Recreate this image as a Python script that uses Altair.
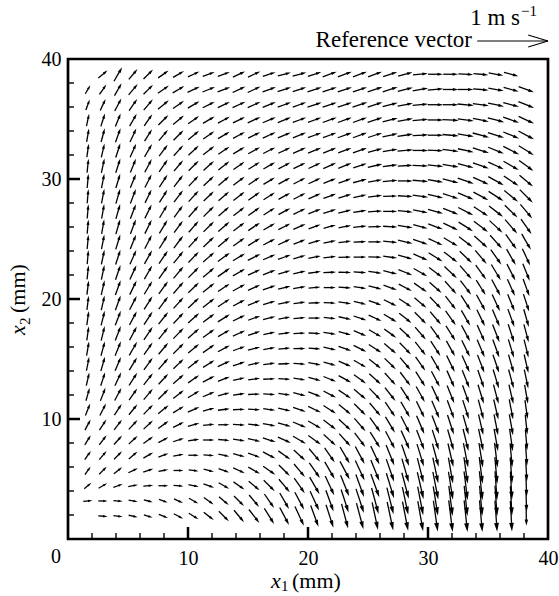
import math
import pandas as pd
import altair as alt

# Measurement grid (mm)
X_MM = [1.65, 2.91, 4.17, 5.43, 6.69, 7.95, 9.21, 10.47, 11.73, 12.99,
        14.25, 15.51, 16.77, 18.03, 19.29, 20.55, 21.81, 23.07, 24.33, 25.59,
        26.85, 28.11, 29.37, 30.63, 31.89, 33.15, 34.41, 35.67, 36.93, 38.19]
Y_MM = [1.90, 3.17, 4.44, 5.71, 6.98, 8.25, 9.52, 10.79, 12.06, 13.33,
        14.60, 15.87, 17.14, 18.41, 19.68, 20.95, 22.22, 23.49, 24.76, 26.03,
        27.30, 28.57, 29.84, 31.11, 32.38, 33.65, 34.92, 36.19, 37.46, 38.73]

N = None
# Flow direction (degrees from +x1, counter-clockwise); first row is the top row
ANGLE_ROWS = [
    [N, 40, 60, 50, 45, 35, 30, 25, 20, 20, 25, 25, 18, 15, 15, 18, 20, 20, 20, 20, 18, 15, 5, 0, 0, -3, -5, -10, -15, N],
    [60, 55, 60, 50, 45, 35, 30, 25, 22, 20, 25, 25, 20, 18, 18, 18, 18, 18, 18, 18, 18, 15, 10, 5, 0, 0, -5, -10, -15, -20],
    [70, 65, 62, 55, 50, 40, 35, 30, 27, 25, 25, 25, 22, 20, 20, 18, 18, 18, 18, 18, 15, 10, 5, 0, 0, -5, -8, -12, -15, -22],
    [78, 72, 68, 60, 55, 45, 40, 35, 30, 28, 26, 25, 23, 22, 20, 20, 20, 20, 20, 18, 15, 10, 5, 0, -3, -8, -12, -15, -20, -25],
    [80, 75, 70, 65, 58, 50, 45, 40, 35, 30, 28, 26, 25, 23, 22, 20, 20, 20, 20, 18, 12, 8, 3, 0, -5, -10, -15, -18, -22, -28],
    [82, 77, 72, 66, 60, 53, 48, 43, 38, 34, 31, 29, 27, 25, 24, 22, 22, 21, 20, 15, 10, 5, 0, -3, -8, -12, -18, -22, -27, -32],
    [84, 78, 72, 68, 62, 55, 50, 45, 42, 38, 35, 32, 30, 28, 26, 25, 24, 22, 18, 13, 8, 3, -2, -6, -10, -15, -20, -25, -30, -36],
    [85, 79, 73, 68, 63, 57, 52, 47, 43, 40, 37, 34, 31, 29, 27, 25, 22, 20, 15, 10, 5, 0, -5, -10, -14, -19, -24, -29, -34, -40],
    [85, 79, 74, 69, 64, 58, 53, 48, 44, 41, 38, 35, 32, 29, 27, 24, 20, 17, 12, 7, 2, -3, -8, -13, -18, -23, -28, -33, -39, -45],
    [85, 80, 74, 69, 64, 59, 54, 49, 45, 41, 38, 35, 32, 29, 26, 22, 18, 14, 9, 4, 0, -6, -11, -16, -22, -27, -33, -38, -44, -50],
    [85, 80, 74, 69, 64, 59, 54, 49, 45, 41, 37, 34, 30, 27, 24, 20, 16, 11, 6, 2, -3, -9, -15, -20, -26, -32, -37, -43, -49, -55],
    [85, 79, 73, 68, 63, 58, 53, 48, 44, 40, 36, 32, 28, 25, 21, 17, 12, 7, 3, 0, -6, -13, -19, -25, -31, -37, -42, -48, -54, -60],
    [85, 78, 72, 66, 61, 56, 51, 46, 41, 36, 31, 27, 23, 20, 16, 11, 6, 2, 0, -2, -8, -16, -24, -32, -38, -44, -50, -55, -60, -65],
    [84, 78, 71, 65, 60, 55, 50, 45, 40, 35, 30, 25, 21, 17, 13, 8, 3, -1, -4, -8, -14, -22, -30, -37, -43, -49, -54, -59, -63, -68],
    [83, 77, 70, 64, 59, 54, 49, 44, 39, 34, 29, 24, 19, 14, 10, 5, 0, -4, -9, -14, -20, -28, -35, -42, -48, -53, -58, -62, -66, -70],
    [83, 77, 70, 63, 58, 53, 48, 43, 38, 33, 28, 22, 17, 12, 7, 2, -3, -8, -14, -20, -26, -33, -40, -46, -52, -57, -61, -65, -68, -72],
    [82, 76, 69, 62, 57, 52, 47, 42, 37, 32, 26, 20, 15, 10, 5, 0, -6, -12, -18, -25, -31, -38, -45, -50, -55, -60, -64, -67, -70, -74],
    [82, 76, 69, 62, 56, 51, 46, 41, 36, 30, 24, 18, 13, 8, 3, -3, -9, -16, -23, -30, -36, -43, -49, -54, -58, -62, -66, -69, -72, -75],
    [80, 75, 68, 60, 55, 50, 45, 40, 35, 28, 20, 15, 10, 5, 1, -5, -12, -19, -26, -33, -40, -46, -52, -57, -61, -64, -67, -70, -73, -76],
    [79, 74, 67, 59, 54, 49, 44, 38, 32, 25, 18, 12, 7, 2, -4, -10, -16, -24, -30, -38, -44, -50, -55, -60, -64, -66, -69, -71, -74, -77],
    [77, 72, 65, 57, 52, 47, 41, 35, 28, 21, 13, 7, 2, -3, -9, -15, -22, -29, -36, -42, -48, -53, -58, -62, -66, -68, -71, -73, -75, -78],
    [74, 69, 62, 55, 50, 44, 38, 31, 23, 15, 8, 2, -3, -8, -14, -21, -28, -34, -40, -46, -52, -57, -61, -65, -68, -70, -73, -75, -77, -80],
    [68, 63, 57, 51, 46, 40, 32, 24, 15, 7, 2, -3, -8, -13, -19, -26, -33, -39, -45, -50, -56, -60, -64, -67, -70, -72, -75, -77, -79, -82],
    [62, 57, 52, 47, 43, 36, 26, 16, 6, 0, -3, -7, -11, -16, -23, -30, -37, -43, -49, -54, -59, -63, -67, -69, -72, -74, -77, -79, -80, -84],
    [58, 53, 48, 43, 36, 28, 18, 8, 0, -5, -9, -13, -18, -24, -30, -36, -42, -48, -53, -58, -62, -66, -69, -72, -74, -76, -78, -80, -82, -85],
    [55, 50, 45, 40, 30, 20, 10, 0, -5, -12, -15, -20, -28, -36, -43, -50, -55, -60, -62, -65, -68, -71, -73, -75, -77, -79, -81, -83, -85, -86],
    [55, 45, 38, 25, 18, 10, 0, -8, -15, -20, -25, -30, -35, -45, -50, -55, -60, -62, -65, -68, -71, -74, -76, -78, -80, -82, -83, -85, -86, -87],
    [40, 30, 20, 10, 5, 0, -5, -12, -20, -30, -35, -40, -45, -50, -55, -60, -65, -68, -70, -70, -73, -75, -77, -79, -81, -83, -84, -86, -87, -88],
    [5, 0, -5, -10, -15, -20, -25, -30, -35, -40, -45, -50, -55, -60, -62, -65, -70, -72, -72, -75, -76, -78, -79, -81, -83, -84, -85, -86, -87, -88],
    [N, -3, -8, -12, -18, -22, -28, -32, -38, -45, -50, -52, -58, -62, -65, -70, -72, -75, -75, -78, -78, -79, -80, -82, -83, -84, -85, -86, -87, -89],
]

# Speed (cm/s); first row is the top row
SPEED_ROWS = [
    [N, 17, 23, 19, 19, 18, 18, 18, 18, 18, 19, 19, 19, 19, 20, 20, 21, 21, 21, 21, 21, 21, 21, 21, 21, 21, 21, 21, 21, N],
    [14, 17, 20, 20, 19, 19, 19, 19, 19, 19, 20, 20, 20, 20, 20, 21, 21, 21, 21, 22, 22, 22, 22, 22, 22, 22, 22, 22, 22, 23],
    [16, 18, 20, 20, 20, 20, 19, 19, 19, 19, 20, 20, 20, 20, 20, 21, 21, 21, 22, 22, 22, 22, 22, 22, 22, 23, 23, 23, 23, 24],
    [18, 19, 20, 20, 20, 20, 20, 19, 19, 19, 19, 20, 20, 20, 20, 20, 21, 21, 21, 22, 22, 22, 22, 22, 23, 23, 23, 24, 24, 24],
    [19, 20, 21, 21, 20, 20, 20, 20, 19, 19, 19, 19, 20, 20, 20, 20, 20, 21, 21, 21, 22, 22, 22, 22, 23, 23, 24, 24, 24, 25],
    [19, 20, 21, 21, 21, 20, 20, 20, 20, 19, 19, 19, 19, 19, 20, 20, 20, 20, 21, 21, 21, 22, 22, 22, 23, 23, 24, 24, 25, 25],
    [20, 21, 21, 21, 21, 21, 20, 20, 20, 20, 19, 19, 19, 19, 19, 19, 20, 20, 20, 21, 21, 21, 22, 22, 23, 23, 24, 24, 25, 25],
    [20, 21, 21, 21, 21, 21, 21, 20, 20, 20, 20, 19, 19, 19, 19, 19, 19, 19, 20, 20, 21, 21, 22, 22, 23, 24, 24, 25, 25, 25],
    [20, 21, 22, 22, 21, 21, 21, 21, 20, 20, 20, 20, 19, 19, 19, 19, 19, 19, 19, 20, 20, 21, 22, 22, 23, 24, 24, 25, 25, 26],
    [20, 21, 22, 22, 22, 21, 21, 21, 21, 20, 20, 20, 19, 19, 19, 19, 19, 19, 19, 20, 20, 21, 21, 22, 23, 24, 24, 25, 25, 26],
    [20, 21, 22, 22, 22, 22, 21, 21, 21, 21, 20, 20, 19, 19, 19, 18, 18, 18, 19, 19, 20, 21, 21, 22, 23, 24, 25, 25, 26, 26],
    [20, 21, 22, 22, 22, 22, 22, 21, 21, 21, 20, 20, 19, 19, 18, 18, 18, 18, 18, 19, 20, 21, 22, 22, 23, 24, 25, 25, 26, 26],
    [20, 21, 22, 22, 22, 22, 22, 21, 21, 21, 20, 20, 19, 19, 18, 18, 18, 18, 18, 19, 20, 21, 22, 23, 24, 24, 25, 26, 26, 26],
    [20, 21, 22, 22, 22, 22, 22, 21, 21, 21, 20, 19, 19, 18, 18, 18, 18, 18, 18, 19, 20, 21, 22, 23, 24, 25, 25, 26, 26, 26],
    [20, 21, 22, 22, 22, 22, 22, 21, 21, 20, 20, 19, 19, 18, 18, 17, 17, 18, 18, 19, 20, 21, 22, 23, 24, 25, 25, 26, 26, 26],
    [20, 21, 22, 22, 22, 22, 21, 21, 21, 20, 19, 19, 18, 18, 17, 17, 17, 18, 18, 19, 20, 21, 22, 23, 24, 25, 26, 26, 26, 26],
    [20, 21, 22, 22, 22, 22, 21, 21, 20, 20, 19, 18, 18, 17, 17, 17, 17, 18, 19, 20, 21, 22, 23, 24, 25, 25, 26, 26, 27, 26],
    [20, 21, 22, 22, 22, 21, 21, 21, 20, 19, 19, 18, 17, 17, 17, 17, 18, 18, 19, 20, 21, 22, 23, 24, 25, 26, 26, 27, 27, 26],
    [20, 21, 22, 22, 21, 21, 21, 20, 20, 19, 18, 18, 17, 17, 17, 17, 18, 19, 20, 21, 22, 23, 24, 25, 25, 26, 27, 27, 27, 26],
    [20, 21, 21, 21, 21, 21, 20, 20, 19, 19, 18, 17, 17, 17, 17, 18, 18, 19, 20, 21, 22, 23, 24, 25, 26, 26, 27, 27, 27, 27],
    [19, 20, 21, 21, 21, 20, 20, 19, 19, 18, 17, 17, 17, 17, 17, 18, 19, 20, 21, 22, 23, 24, 25, 25, 26, 27, 27, 28, 28, 27],
    [19, 20, 20, 20, 20, 20, 19, 19, 18, 17, 17, 17, 17, 17, 18, 19, 20, 21, 22, 23, 24, 24, 25, 26, 27, 27, 28, 28, 28, 27],
    [18, 19, 19, 19, 19, 19, 18, 18, 17, 17, 17, 17, 17, 18, 19, 20, 21, 22, 23, 24, 25, 25, 26, 27, 28, 28, 29, 29, 29, 27],
    [17, 18, 18, 18, 18, 18, 17, 17, 16, 16, 17, 17, 18, 19, 20, 21, 22, 23, 24, 25, 26, 27, 28, 28, 29, 29, 30, 30, 30, 28],
    [16, 17, 17, 17, 17, 16, 16, 16, 16, 16, 17, 18, 19, 20, 21, 22, 23, 24, 25, 26, 28, 29, 30, 30, 31, 32, 32, 32, 32, 29],
    [15, 16, 16, 16, 16, 15, 15, 15, 15, 16, 17, 18, 20, 21, 22, 24, 25, 27, 28, 29, 31, 32, 33, 34, 34, 35, 35, 35, 34, 30],
    [14, 15, 15, 15, 15, 14, 14, 14, 15, 16, 18, 19, 21, 22, 24, 26, 28, 29, 31, 32, 34, 35, 36, 37, 37, 38, 38, 38, 37, 31],
    [13, 14, 14, 14, 14, 14, 14, 15, 16, 17, 19, 20, 22, 24, 26, 28, 30, 32, 34, 35, 37, 38, 39, 40, 40, 41, 41, 41, 40, 31],
    [13, 13, 13, 13, 13, 13, 14, 15, 17, 18, 20, 22, 24, 26, 28, 30, 32, 34, 36, 38, 39, 40, 41, 42, 43, 43, 43, 43, 42, 30],
    [N, 13, 13, 13, 13, 14, 15, 16, 18, 20, 22, 24, 26, 28, 30, 32, 34, 36, 38, 40, 41, 42, 43, 44, 45, 45, 45, 44, 43, 27],
]

REF_SPEED = 1.0          # m/s, reference vector
MM_PER_MPS = 5.9         # drawn length of 1 m/s in mm
PX_PER_MM = 480 / 40.0   # plot area is 480 px for 40 mm

MAJOR_TICKS = [10, 20, 30]
MINOR_TICKS = [2, 4, 6, 8, 12, 14, 16, 18, 22, 24, 26, 28, 32, 34, 36, 38]
AXIS_VALUES = [10, 20, 30, 40]

SERIF = "Liberation Serif"

# --- vector geometry -------------------------------------------------------
rows = []
n_rows = len(Y_MM)
for r, (arow, srow) in enumerate(zip(ANGLE_ROWS, SPEED_ROWS)):
    yc = Y_MM[n_rows - 1 - r]
    for c, (a, s) in enumerate(zip(arow, srow)):
        if a is None or s is None:
            continue
        xc = X_MM[c]
        L = s / 100.0 * MM_PER_MPS
        ux, uy = math.cos(math.radians(a)), math.sin(math.radians(a))
        tx, ty = xc - 0.5 * L * ux, yc - 0.5 * L * uy
        hx, hy = xc + 0.5 * L * ux, yc + 0.5 * L * uy
        h_px = 2.5 + 0.2 * L * PX_PER_MM      # arrowhead length in px
        h = h_px / PX_PER_MM
        rows.append({
            "x1": tx, "y1": ty,
            "x2": hx - 0.8 * h * ux, "y2": hy - 0.8 * h * uy,
            "hx": hx - 0.5 * h * ux, "hy": hy - 0.5 * h * uy,
            "rot": (90 - a) % 360,
            "hsize": h_px ** 2,
        })
vec = pd.DataFrame(rows)

SX = alt.Scale(domain=[0, 40], nice=False, zero=False)
SY = alt.Scale(domain=[0, 40], nice=False, zero=False)
AX = alt.Axis(values=AXIS_VALUES, title=None, labelPadding=9,
              labelFlush=False, labelOverlap=False)
AY = alt.Axis(values=AXIS_VALUES, title=None, labelPadding=7,
              labelFlush=False, labelOverlap=False)


def qx(field):
    return alt.X(field, type="quantitative", scale=SX, axis=AX)


def qy(field):
    return alt.Y(field, type="quantitative", scale=SY, axis=AY)


shafts = alt.Chart(vec).mark_rule(color="black", strokeWidth=1.3).encode(
    x=qx("x1"), y=qy("y1"), x2="x2:Q", y2="y2:Q",
)

heads = alt.Chart(vec).mark_point(
    shape="M0,-1L0.55,1L-0.55,1Z", filled=True, color="black",
    opacity=1, strokeWidth=0,
).encode(
    x=qx("hx"), y=qy("hy"),
    angle=alt.Angle("rot:Q", scale=None),
    size=alt.Size("hsize:Q", scale=None, legend=None),
)

# Inward ticks on the bottom and left edges
ticks_major = pd.DataFrame({"v": MAJOR_TICKS})
ticks_minor = pd.DataFrame({"v": MINOR_TICKS})
bx_major = alt.Chart(ticks_major).mark_rule(color="black", strokeWidth=2.5).encode(
    x=qx("v"), y=alt.value(480), y2=alt.value(468))
bx_minor = alt.Chart(ticks_minor).mark_rule(color="black", strokeWidth=1.4).encode(
    x=qx("v"), y=alt.value(480), y2=alt.value(474))
ly_major = alt.Chart(ticks_major).mark_rule(color="black", strokeWidth=2.5).encode(
    y=qy("v"), x=alt.value(0), x2=alt.value(12))
ly_minor = alt.Chart(ticks_minor).mark_rule(color="black", strokeWidth=1.4).encode(
    y=qy("v"), x=alt.value(0), x2=alt.value(6))

# Origin label
origin = alt.Chart(pd.DataFrame({"v": [0], "t": ["0"]})).mark_text(
    font=SERIF, fontSize=20, align="center", baseline="alphabetic", dx=-12,
).encode(x=qx("v"), y=alt.value(504), text="t:N")

# Reference vector (1 m/s) above the frame
ref_len = REF_SPEED * MM_PER_MPS
ref_y = 40 + 18 / PX_PER_MM
ref_h = 0.28 * ref_len
ref_w = 0.5
ref_lines = pd.DataFrame({
    "x1": [40 - ref_len, 40 - ref_h, 40 - ref_h],
    "y1": [ref_y, ref_y + ref_w, ref_y - ref_w],
    "x2": [40, 40, 40],
    "y2": [ref_y, ref_y, ref_y],
})
ref_arrow = alt.Chart(ref_lines).mark_rule(color="black", strokeWidth=1.2).encode(
    x=qx("x1"), y=qy("y1"), x2="x2:Q", y2="y2:Q")


def label(text, x, y, size=20, style="normal", align="left", angle=0, dx=0, dy=0):
    return alt.Chart(pd.DataFrame({"t": [text]})).mark_text(
        font=SERIF, fontSize=size, fontStyle=style, align=align,
        baseline="alphabetic", angle=angle, dx=dx, dy=dy, color="black",
    ).encode(x=alt.value(x), y=alt.value(y), text="t:N")


texts = [
    label("Reference vector", 404, -12, size=23, align="right"),
    label("1 m s", 452, -34, size=23, align="right"),
    label("\u22121", 453, -43, size=15),
    # x1 (mm)
    label("x", 203, 529, size=22, style="italic"),
    label("1", 213, 532, size=15),
    label("(mm)", 224, 529, size=22),
    # x2 (mm), rotated
    label("x", -43, 276, size=22, style="italic", angle=270),
    label("2", -43, 276, size=15, angle=270, dx=10, dy=5),
    label("(mm)", -43, 276, size=22, angle=270, dx=22),
]

chart = alt.layer(
    shafts, heads, bx_major, bx_minor, ly_major, ly_minor, origin, ref_arrow, *texts
).properties(
    width=480, height=480,
    padding={"left": 68, "top": 59, "right": 11, "bottom": 57},
    autosize=alt.AutoSizeParams(type="none"),
    background="white",
).configure_view(
    stroke="black", strokeWidth=2.7,
).configure_axis(
    grid=False, domain=False, ticks=False,
    labelFont=SERIF, labelFontSize=20, labelColor="black",
)

chart.save("out.html", embed_options={"renderer": "svg", "actions": False})
